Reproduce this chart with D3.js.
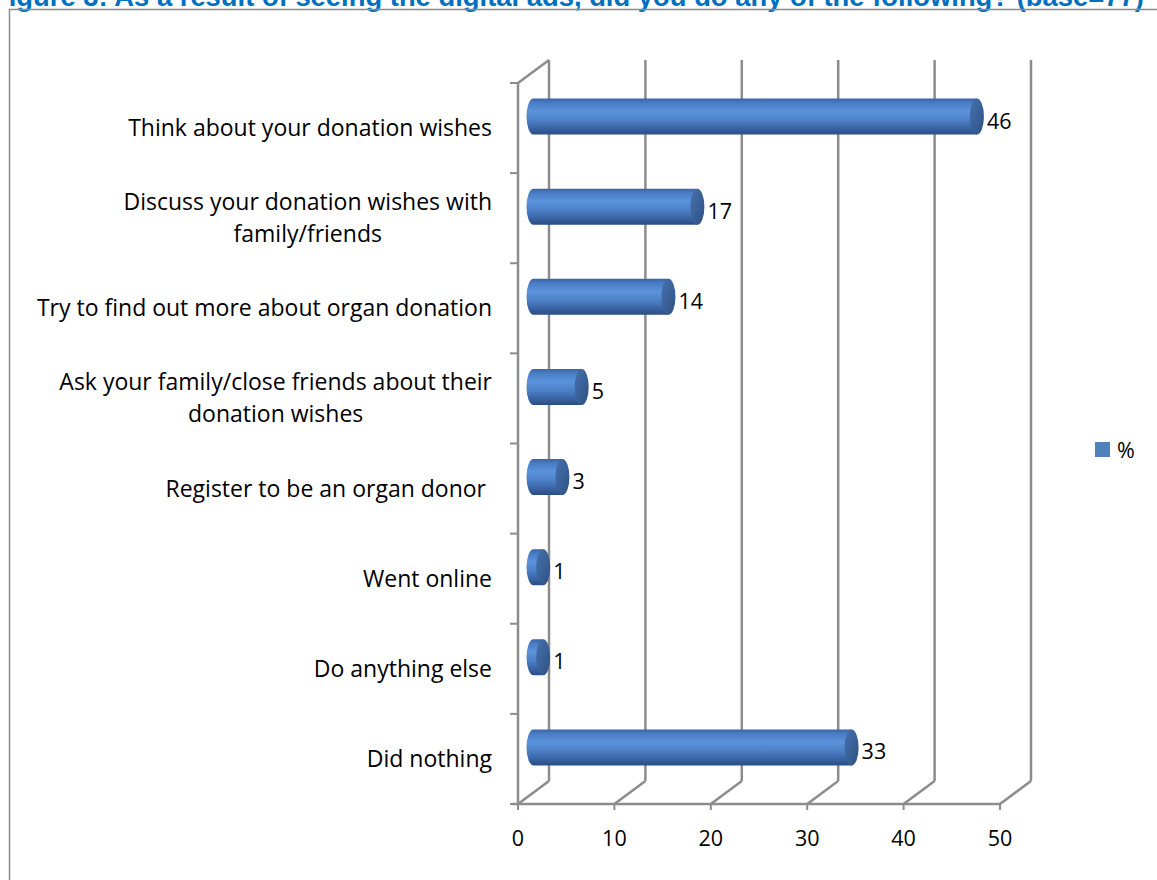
<!DOCTYPE html>
<html>
<head>
<meta charset="utf-8">
<script src="https://cdn.jsdelivr.net/npm/d3@7"></script>
<style>
  html, body { margin: 0; padding: 0; background: #fff; }
  svg { display: block; }
</style>
</head>
<body>
<svg id="chart" width="1157" height="880"></svg>
<script>
// Survey responses (percent of respondents, base = 77)
const categories = [
  ["Think about your donation wishes"],
  ["Discuss your donation wishes with", "family/friends"],
  ["Try to find out more about organ donation"],
  ["Ask your family/close friends about their", "donation wishes"],
  ["Register to be an organ donor "],
  ["Went online"],
  ["Do anything else"],
  ["Did nothing"]
];
const values = [46, 17, 14, 5, 3, 1, 1, 33];
const xTicks = [0, 10, 20, 30, 40, 50];
const seriesName = "%";
const title = "Figure 3: As a result of seeing the digital ads, did you do any of the following? (base=77)";

const svg = d3.select("#chart");
const W = 1157, H = 880;
const font = "'Open Sans', Lato, sans-serif";
const labelSize = 23;
const numSize = 21.5;
const axisColor = "#8c8c8c";

// plot box (front face) and depth offset of the 3-D back wall
const plotLeft = 518, plotRight = 1000, plotTop = 83, plotBottom = 804;
const depthX = 31, depthY = -23;

const x = d3.scaleLinear().domain([0, 50]).range([plotLeft, plotRight]);
const keys = categories.map((c, i) => i);
const y = d3.scaleBand().domain(keys).range([plotTop, plotBottom]);

// title (partly above the page edge)
svg.append("text")
  .attr("x", -8).attr("y", 6)
  .attr("font-family", "'Liberation Sans', Arial, sans-serif")
  .attr("font-weight", "bold")
  .attr("font-size", 27.4)
  .attr("fill", "#0070C0")
  .text(title);

// outer chart frame
svg.append("rect")
  .attr("x", 9.5).attr("y", 9.5)
  .attr("width", W + 20).attr("height", H + 20)
  .attr("fill", "none")
  .attr("stroke", "#8a8a8a")
  .attr("stroke-width", 1.5);

const defs = svg.append("defs");
const bodyGrad = defs.append("linearGradient")
  .attr("id", "cylBody").attr("x1", 0).attr("y1", 0).attr("x2", 0).attr("y2", 1);
[[0, "#3a65a8"], [0.12, "#4a7cc4"], [0.35, "#5b93dc"], [0.6, "#4d80c6"], [0.85, "#36609f"], [1, "#2a4c82"]]
  .forEach(([o, c]) => bodyGrad.append("stop").attr("offset", o).attr("stop-color", c));
const capGrad = defs.append("linearGradient")
  .attr("id", "cylCap").attr("x1", 0).attr("y1", 0).attr("x2", 1).attr("y2", 1);
[[0, "#4670ad"], [0.5, "#3a6299"], [1, "#2d4f80"]]
  .forEach(([o, c]) => capGrad.append("stop").attr("offset", o).attr("stop-color", c));

const g = svg.append("g");

// back wall gridlines
g.selectAll("line.grid").data(xTicks).join("line")
  .attr("class", "grid")
  .attr("x1", d => x(d) + depthX).attr("x2", d => x(d) + depthX)
  .attr("y1", plotTop + depthY).attr("y2", plotBottom + depthY)
  .attr("stroke", axisColor).attr("stroke-width", 2.5);

// floor diagonals from each tick to the back wall
g.selectAll("line.floor").data(xTicks).join("line")
  .attr("class", "floor")
  .attr("x1", d => x(d)).attr("y1", plotBottom)
  .attr("x2", d => x(d) + depthX).attr("y2", plotBottom + depthY)
  .attr("stroke", axisColor).attr("stroke-width", 2.5);

// left side wall top edge
g.append("line")
  .attr("x1", plotLeft).attr("y1", plotTop)
  .attr("x2", plotLeft + depthX).attr("y2", plotTop + depthY)
  .attr("stroke", axisColor).attr("stroke-width", 2.5);

// front category axis
g.append("line")
  .attr("x1", plotLeft).attr("x2", plotLeft).attr("y1", plotTop).attr("y2", plotBottom)
  .attr("stroke", axisColor).attr("stroke-width", 2.5);
const boundaries = keys.map(k => y(k)).concat([plotBottom]);
g.selectAll("line.ytick").data(boundaries).join("line")
  .attr("class", "ytick")
  .attr("x1", plotLeft - 8).attr("x2", plotLeft).attr("y1", d => d).attr("y2", d => d)
  .attr("stroke", axisColor).attr("stroke-width", 2);

// front value axis
g.append("line")
  .attr("x1", plotLeft - 6).attr("x2", plotRight).attr("y1", plotBottom).attr("y2", plotBottom)
  .attr("stroke", axisColor).attr("stroke-width", 2.5);
g.selectAll("line.xtick").data(xTicks).join("line")
  .attr("class", "xtick")
  .attr("x1", d => x(d)).attr("x2", d => x(d)).attr("y1", plotBottom).attr("y2", plotBottom + 6)
  .attr("stroke", axisColor).attr("stroke-width", 2);

g.selectAll("text.xlab").data(xTicks).join("text")
  .attr("class", "xlab")
  .attr("x", d => x(d)).attr("y", plotBottom + 42)
  .attr("text-anchor", "middle")
  .attr("font-family", font).attr("font-size", numSize)
  .attr("fill", "#000")
  .text(d => d);

// category labels, right aligned block, centred lines
const labelRight = 492;
const labG = g.selectAll("g.cat").data(keys).join("g").attr("class", "cat");
labG.each(function (k) {
  const lines = categories[k];
  const cy = y(k) + y.bandwidth() / 2;
  const lh = 32;
  const grp = d3.select(this);
  const texts = lines.map((t, i) => grp.append("text")
    .attr("y", cy + (i - (lines.length - 1) / 2) * lh + 8)
    .attr("font-family", font).attr("font-size", labelSize)
    .attr("fill", "#000")
    .attr("xml:space", "preserve")
    .style("white-space", "pre")
    .text(t));
  const widths = texts.map(t => t.node().getComputedTextLength());
  const maxW = d3.max(widths);
  texts.forEach((t) => t.attr("x", labelRight - maxW / 2).attr("text-anchor", "middle"));
});

// cylinders sit half way into the depth
const cx0 = depthX / 2, cy0 = depthY / 2;
const r = 18, rx = 7;
const bars = g.selectAll("g.bar").data(keys).join("g").attr("class", "bar");
bars.each(function (k) {
  const v = values[k];
  const grp = d3.select(this);
  const cy = y(k) + y.bandwidth() / 2 + cy0;
  const xs = x(0) + cx0, xe = x(v) + cx0;
  // body with rounded start
  grp.append("path")
    .attr("d", `M${xs},${cy - r} L${xe},${cy - r} L${xe},${cy + r} L${xs},${cy + r} A${rx},${r} 0 0 1 ${xs},${cy - r} Z`)
    .attr("fill", "url(#cylBody)");
  // end cap
  grp.append("ellipse")
    .attr("cx", xe).attr("cy", cy).attr("rx", rx).attr("ry", r)
    .attr("fill", "url(#cylCap)");
  // value label
  grp.append("text")
    .attr("x", xe + rx + 3).attr("y", cy + 12)
    .attr("font-family", font).attr("font-size", numSize)
    .attr("fill", "#000")
    .text(v);
});

// legend
svg.append("rect")
  .attr("x", 1095).attr("y", 442).attr("width", 15).attr("height", 15)
  .attr("fill", "#4f81bd");
svg.append("text")
  .attr("x", 1117).attr("y", 458)
  .attr("font-family", font).attr("font-size", numSize)
  .attr("fill", "#000")
  .text(seriesName);
</script>
</body>
</html>
